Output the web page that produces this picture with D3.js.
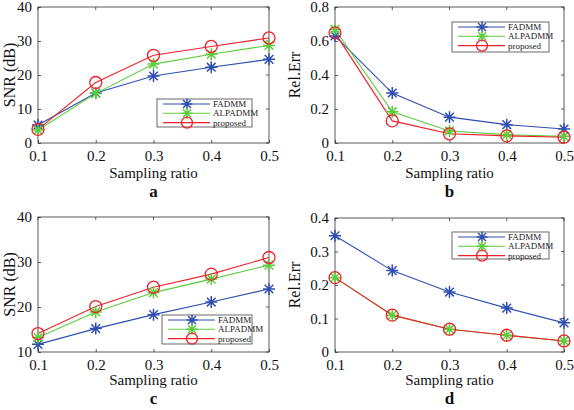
<!DOCTYPE html>
<html><head><meta charset="utf-8">
<script src="https://cdn.jsdelivr.net/npm/d3@7"></script>
<style>body{margin:0;background:#fff}svg{display:block}
svg text{font-family:"Liberation Serif","DejaVu Serif",serif}</style>
</head><body><svg id="c" width="574" height="410"></svg>
<script>
const ratios = [0.1, 0.2, 0.3, 0.4, 0.5];
const seriesNames = ["FADMM", "ALPADMM", "proposed"];
// panel a: SNR (dB)
const aFADMM = [5.3, 14.7, 19.7, 22.3, 24.6];
const aALPADMM = [3.8, 14.6, 23.2, 26.1, 28.7];
const aProposed = [4.0, 17.8, 25.8, 28.4, 30.9];
// panel b: Rel.Err
const bFADMM = [0.63, 0.294, 0.152, 0.108, 0.082];
const bALPADMM = [0.668, 0.184, 0.071, 0.049, 0.039];
const bProposed = [0.648, 0.13, 0.054, 0.042, 0.034];
// panel c: SNR (dB)
const cFADMM = [11.7, 15.2, 18.3, 21.1, 24.0];
const cALPADMM = [13.2, 18.9, 23.2, 26.2, 29.3];
const cProposed = [14.1, 20.1, 24.4, 27.3, 31.0];
// panel d: Rel.Err
const dFADMM = [0.347, 0.243, 0.179, 0.131, 0.087];
const dALPADMM = [0.222, 0.110, 0.068, 0.050, 0.033];
const dProposed = [0.222, 0.110, 0.068, 0.050, 0.033];
const snrTicksA = [0, 10, 20, 30, 40];
const errTicksB = [0, 0.2, 0.4, 0.6, 0.8];
const snrTicksC = [10, 20, 30, 40];
const errTicksD = [0, 0.1, 0.2, 0.3, 0.4];
const xTickLabels = ["0.1", "0.2", "0.3", "0.4", "0.5"];

const colors = ["#2f4fb0", "#5ccc3c", "#f0202a"];
const markers = ["star", "star", "circle"];
const font = "Liberation Serif, DejaVu Serif, serif";

const svg = d3.select("#c");

function drawPanel(cfg) {
  const {x0, x1, y0, y1, yDomain, yTicks, yFmt, ylab, ylabX, letter, labDy, letterDy, data, legend} = cfg;
  const x = d3.scaleLinear().domain([0.1, 0.5]).range([x0, x1]);
  const y = d3.scaleLinear().domain(yDomain).range([y1, y0]);
  const g = svg.append("g");
  g.append("rect").attr("x", x0).attr("y", y0).attr("width", x1 - x0).attr("height", y1 - y0)
    .attr("fill", "none").attr("stroke", "#333").attr("stroke-width", 0.8);
  const xa = g.append("g").attr("transform", `translate(0,${y1})`)
    .call(d3.axisBottom(x).tickValues(ratios).tickSize(-3).tickPadding(7).tickFormat((d, i) => xTickLabels[i]));
  const ya = g.append("g").attr("transform", `translate(${x0},0)`)
    .call(d3.axisLeft(y).tickValues(yTicks).tickSize(-3).tickPadding(6).tickFormat(yFmt));
  [xa, ya].forEach(a => {
    a.attr("font-family", null).attr("font-size", null);
    a.select(".domain").remove();
    a.selectAll(".tick line").attr("stroke", "#333").attr("stroke-width", 0.8);
    a.selectAll("text").style("font-family", font).attr("font-size", 15).attr("fill", "#111");
  });
  g.append("g").selectAll("line").data(ratios).join("line")
    .attr("x1", d => x(d)).attr("x2", d => x(d)).attr("y1", y0).attr("y2", y0 + 3)
    .attr("stroke", "#333").attr("stroke-width", 0.8);
  g.append("g").selectAll("line").data(yTicks).join("line")
    .attr("x1", x1).attr("x2", x1 - 3).attr("y1", d => y(d)).attr("y2", d => y(d))
    .attr("stroke", "#333").attr("stroke-width", 0.8);
  g.append("text").attr("x", (x0 + x1) / 2).attr("y", y1 + labDy).attr("text-anchor", "middle")
    .style("font-family", font).attr("font-size", 15).attr("fill", "#111").text("Sampling ratio");
  g.append("text").attr("x", (x0 + x1) / 2).attr("y", y1 + letterDy).attr("text-anchor", "middle")
    .style("font-family", font).attr("font-size", 17).attr("font-weight", "bold").attr("fill", "#111").text(letter);
  g.append("text").attr("transform", `translate(${ylabX},${(y0 + y1) / 2}) rotate(-90)`)
    .attr("text-anchor", "middle").style("font-family", font).attr("font-size", 16).attr("fill", "#111").text(ylab);
  const line = d3.line().x((d, i) => x(ratios[i])).y(d => y(d));
  data.forEach((vals, s) => {
    g.append("path").attr("d", line(vals)).attr("fill", "none").attr("stroke", colors[s]).attr("stroke-width", 1.1);
  });
  data.forEach((vals, s) => {
    vals.forEach((v, i) => drawMarker(g, x(ratios[i]), y(v), s, 6));
  });
  const {lx, ly, lw, lh} = legend;
  const lg = g.append("g");
  lg.append("rect").attr("x", lx).attr("y", ly).attr("width", lw).attr("height", lh)
    .attr("fill", "#fff").attr("stroke", "#444").attr("stroke-width", 0.8);
  seriesNames.forEach((n, s) => {
    const yy = ly + 5 + s * 9.3;
    lg.append("line").attr("x1", lx + 6).attr("x2", lx + 53).attr("y1", yy).attr("y2", yy)
      .attr("stroke", colors[s]).attr("stroke-width", 1.1);
    drawMarker(lg, lx + 30, yy, s, 5.5);
    lg.append("text").attr("x", lx + 56).attr("y", yy + 3).style("font-family", font)
      .attr("font-size", 9).attr("fill", "#222").text(n);
  });
}

function drawMarker(g, cx, cy, s, r) {
  if (markers[s] === "circle") {
    g.append("circle").attr("cx", cx).attr("cy", cy).attr("r", r).attr("fill", "none")
      .attr("stroke", colors[s]).attr("stroke-width", 1.3);
  } else {
    const d = r * 0.72;
    const p = `M${cx - r},${cy}L${cx + r},${cy}M${cx},${cy - r}L${cx},${cy + r}` +
      `M${cx - d},${cy - d}L${cx + d},${cy + d}M${cx - d},${cy + d}L${cx + d},${cy - d}`;
    g.append("path").attr("d", p).attr("stroke", colors[s]).attr("stroke-width", 1.5).attr("fill", "none");
  }
}

const fmt1 = d => d === 0 ? "0" : d3.format(".1f")(d);
drawPanel({x0: 38, x1: 269, y0: 7, y1: 143, yDomain: [0, 40], yTicks: snrTicksA, yFmt: d => d, ylab: "SNR (dB)", ylabX: 15, letter: "a", labDy: 35, letterDy: 54,
  data: [aFADMM, aALPADMM, aProposed], legend: {lx: 157, ly: 99, lw: 95, lh: 28}});
drawPanel({x0: 335, x1: 564, y0: 7, y1: 143, yDomain: [0, 0.8], yTicks: errTicksB, yFmt: fmt1, ylab: "Rel.Err", ylabX: 300, letter: "b", labDy: 35, letterDy: 54,
  data: [bFADMM, bALPADMM, bProposed], legend: {lx: 452, ly: 22, lw: 97, lh: 30}});
drawPanel({x0: 38, x1: 269, y0: 217, y1: 352, yDomain: [10, 40], yTicks: snrTicksC, yFmt: d => d, ylab: "SNR (dB)", ylabX: 15, letter: "c", labDy: 33, letterDy: 52,
  data: [cFADMM, cALPADMM, cProposed], legend: {lx: 162, ly: 315, lw: 90, lh: 29}});
drawPanel({x0: 335, x1: 564, y0: 218, y1: 352, yDomain: [0, 0.4], yTicks: errTicksD, yFmt: fmt1, ylab: "Rel.Err", ylabX: 300, letter: "d", labDy: 33, letterDy: 52,
  data: [dFADMM, dALPADMM, dProposed], legend: {lx: 452, ly: 232, lw: 97, lh: 27}});
</script></body></html>
